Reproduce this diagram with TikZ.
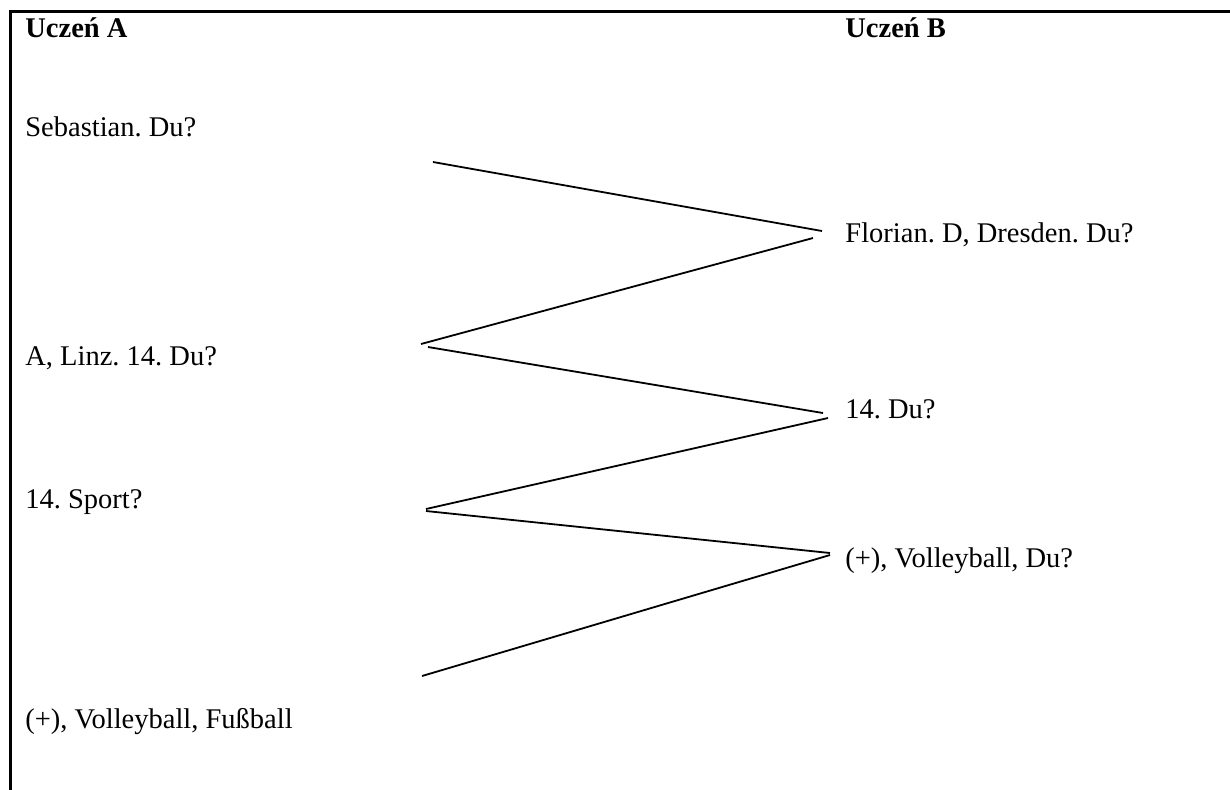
\documentclass[tikz,border=0pt]{standalone}
\usepackage{fontspec}
\setmainfont{Liberation Serif}
\frenchspacing

\begin{document}
\begin{tikzpicture}[x=0.5pt, y=-0.5pt,
        answer/.style={anchor=base west, inner sep=0pt, font=\fontsize{14.25}{17}\selectfont},
        head/.style={answer, font=\fontsize{14.25}{17}\selectfont\bfseries},
        link/.style={line width=0.9pt},
        frame/.style={line width=1.5pt}
    ]
        \useasboundingbox (0,0) rectangle (1230,789);

        % Frame: top and left edge only
        \coordinate (frame_tl) at (10,11);
        \coordinate (frame_tr) at (1232,11);
        \coordinate (frame_bl) at (10,791);
        \draw[frame] (frame_bl) -- (frame_tl) -- (frame_tr);

        % Headers
        \node[head] (head_a) at (25,37) {Uczeń A};
        \node[head] (head_b) at (845,37) {Uczeń B};

        % Student A
        \node[answer] (a1) at (25,136) {Sebastian. Du?};
        \node[answer] (a2) at (25,365) {A, Linz. 14. Du?};
        \node[answer] (a3) at (25,508) {14. Sport?};
        \node[answer] (a4) at (25,728) {(+), Volleyball, Fußball};

        % Student B
        \node[answer] (b1) at (845,242) {Florian. D, Dresden. Du?};
        \node[answer] (b2) at (845,418) {14. Du?};
        \node[answer] (b3) at (845,567) {(+), Volleyball, Du?};

        % Zigzag end points
        \coordinate (z1_start) at (433,162);
        \coordinate (z1_end) at (822,231);
        \coordinate (z2_start) at (813,238);
        \coordinate (z2_end) at (421,344);
        \coordinate (z3_start) at (428,347);
        \coordinate (z3_end) at (823,413);
        \coordinate (z4_start) at (828,418);
        \coordinate (z4_end) at (426,509);
        \coordinate (z5_start) at (426,511);
        \coordinate (z5_end) at (830,553);
        \coordinate (z6_start) at (830,555);
        \coordinate (z6_end) at (422,676);

        % Draw zigzag
        \foreach \i in {1,...,6} {
            \draw[link] (z\i_start) -- (z\i_end);
        }

    \end{tikzpicture}
\end{document}
